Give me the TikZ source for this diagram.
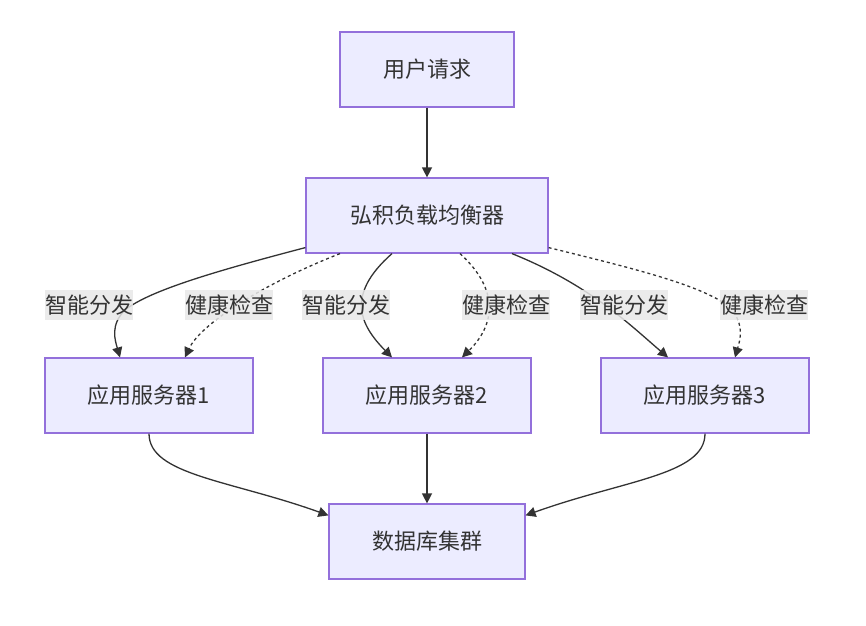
\documentclass[tikz,border=0pt]{standalone}
\usepackage{fontspec}
\setmainfont{Noto Sans CJK SC}
\usetikzlibrary{arrows.meta}
\definecolor{boxfill}{HTML}{ECECFF}
\definecolor{boxline}{HTML}{9370DB}
\definecolor{ink}{HTML}{333333}
\definecolor{lblbg}{HTML}{E8E8E8}
\begin{document}
\begin{tikzpicture}[x=1pt,y=1pt,
  box/.style={draw=boxline, line width=1.2pt, fill=boxfill, text=ink, minimum height=75pt, inner sep=0pt, font=\fontsize{22}{26}\selectfont},
  lbl/.style={fill=lblbg, fill opacity=0.85, text opacity=1, text=ink, inner sep=0pt, minimum width=88pt, minimum height=30pt, font=\fontsize{22}{26}\selectfont},
  edge/.style={draw=ink, line width=1.3pt, -{Triangle[length=10pt,width=10pt]}},
  dotedge/.style={edge, dash pattern=on 3pt off 3pt}]
\useasboundingbox (0,0) rectangle (866,625);
\fill[white] (0,0) rectangle (866,625);
\node[box, minimum width=174pt] (req) at (427,555.5) {用户请求};
\node[box, minimum width=242pt] (lb) at (427,409.5) {弘积负载均衡器};
\node[box, minimum width=208pt] (s1) at (149,229.5) {应用服务器1};
\node[box, minimum width=208pt] (s2) at (427,229.5) {应用服务器2};
\node[box, minimum width=208pt] (s3) at (705,229.5) {应用服务器3};
\node[box, minimum width=196pt] (db) at (427,83.5) {数据库集群};
\draw[edge] (req) -- (lb);
\draw[edge] ([yshift=6pt]lb.south west) .. controls (220,355) and (150,335) .. (125,315) .. controls (110,300) and (115,285) .. ([xshift=-29pt]s1.north);
\draw[dotedge] ([xshift=-87pt]lb.south) .. controls (260,340) and (200,300) .. ([xshift=36pt]s1.north);
\draw[edge] ([xshift=-35pt]lb.south) .. controls (345,330) and (360,300) .. ([xshift=-35pt]s2.north);
\draw[dotedge] ([xshift=33pt]lb.south) .. controls (500,335) and (495,300) .. ([xshift=35pt]s2.north);
\draw[edge] ([xshift=85pt]lb.south) .. controls (590,340) and (630,300) .. ([xshift=-37pt]s3.north);
\draw[dotedge] ([yshift=6pt]lb.south east) .. controls (640,355) and (700,340) .. (730,318) .. controls (745,300) and (740,285) .. ([xshift=30pt]s3.north);
\draw[edge] (s1.south) .. controls (149,150) and (230,145) .. ([yshift=-12pt]db.north west);
\draw[edge] (s2) -- (db);
\draw[edge] (s3.south) .. controls (705,150) and (624,145) .. ([yshift=-12pt]db.north east);
\node[lbl] (la1) at (89,320) {智能分发};
\node[lbl] (la2) at (229,320) {健康检查};
\node[lbl] (lb1) at (346,320) {智能分发};
\node[lbl] (lb2) at (506,320) {健康检查};
\node[lbl] (lc1) at (624,320) {智能分发};
\node[lbl] (lc2) at (764,320) {健康检查};
\end{tikzpicture}
\end{document}
